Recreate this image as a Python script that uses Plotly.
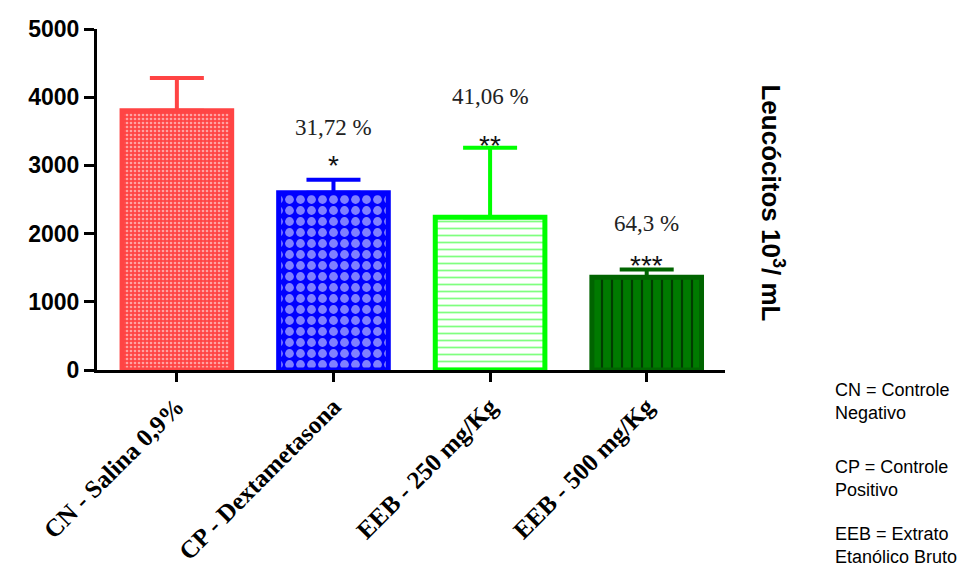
import plotly.graph_objects as go

categories = ["CN - Salina 0,9%", "CP - Dextametasona", "EEB - 250 mg/Kg", "EEB - 500 mg/Kg"]
means = [3800, 2600, 2240, 1360]
err_upper = [4280, 2790, 3260, 1475]
percent_labels = ["", "31,72 %", "41,06 %", "64,3 %"]
stars = ["", "*", "**", "***"]
y_ticks = [0, 1000, 2000, 3000, 4000, 5000]
legend_groups = ["CN = Controle<br>Negativo", "CP = Controle<br>Positivo", "EEB = Extrato<br>Etanólico Bruto"]

border_colors = ["#FF4444", "#0000FF", "#00FF00", "#006400"]
bg_colors = ["#FF4444", "#0000FF", "#FFFFFF", "#007A00"]
fg_colors = ["#FFFFFF", "#FFFFFF", "#00FF00", "#000000"]
shapes = [".", ".", "-", "|"]
sizes = [4, 11, 7, 10]
solidities = [0.35, 0.5, 0.25, 0.22]

errs = [u - m for u, m in zip(err_upper, means)]

fig = go.Figure()
for i, c in enumerate(categories):
    fig.add_trace(go.Bar(
        x=[c], y=[means[i]],
        width=0.7,
        marker=dict(
            color=bg_colors[i],
            line=dict(color=border_colors[i], width=5),
            pattern=dict(shape=shapes[i], bgcolor=bg_colors[i], fgcolor=fg_colors[i],
                         size=sizes[i], solidity=solidities[i], fillmode="overlay"),
        ),
        error_y=dict(type="data", symmetric=False, array=[errs[i]], arrayminus=[0],
                     color=border_colors[i], thickness=4, width=27),
        showlegend=False,
    ))

pct_shift = {1: 52, 2: 51, 3: 46}
star_shift = {1: 14, 2: 2, 3: 4}
for i, c in enumerate(categories):
    if percent_labels[i]:
        fig.add_annotation(x=c, y=err_upper[i], yref="y", text=percent_labels[i],
                           showarrow=False, yshift=pct_shift[i],
                           font=dict(family="Liberation Serif", size=23, color="#222"))
    if stars[i]:
        fig.add_annotation(x=c, y=err_upper[i], yref="y", text=stars[i],
                           showarrow=False, yshift=star_shift[i],
                           font=dict(family="Liberation Sans", size=28, color="#111"))

fig.add_annotation(xref="paper", yref="paper", x=1.105, y=0.49,
                   text="<b>Leucócitos 10<sup>3</sup>/ mL</b>", textangle=90, showarrow=False,
                   font=dict(family="Liberation Sans", size=26, color="black"))

for g, yy in zip(legend_groups, [-0.092, -0.318, -0.516]):
    fig.add_annotation(xref="paper", yref="paper", x=1.172, y=yy, xanchor="left", yanchor="middle",
                       align="left", text=g, showarrow=False,
                       font=dict(family="Liberation Sans", size=18, color="black"))

fig.update_layout(
    width=968, height=561,
    margin=dict(l=89, r=251, t=21, b=199),
    plot_bgcolor="white", paper_bgcolor="white",
)
fig.update_xaxes(
    range=[-0.51, 3.5],
    tickvals=categories, ticktext=[f"<b>{c}</b>" for c in categories],
    showline=True, linecolor="black", linewidth=3,
    ticks="outside", ticklen=9, tickwidth=3, tickcolor="black",
    tickangle=-45,
    tickfont=dict(family="Liberation Serif", size=25, color="black"),
    showgrid=False, automargin=False,
)
fig.update_yaxes(
    range=[0, 5000], tickvals=y_ticks,
    ticktext=[f"<b>{v}</b>" for v in y_ticks],
    showline=True, linecolor="black", linewidth=3,
    ticks="outside", ticklen=10, tickwidth=3, tickcolor="black",
    tickfont=dict(family="Liberation Sans", size=23, color="black"),
    showgrid=False, zeroline=False, automargin=False,
)

fig.write_html("out.html")
